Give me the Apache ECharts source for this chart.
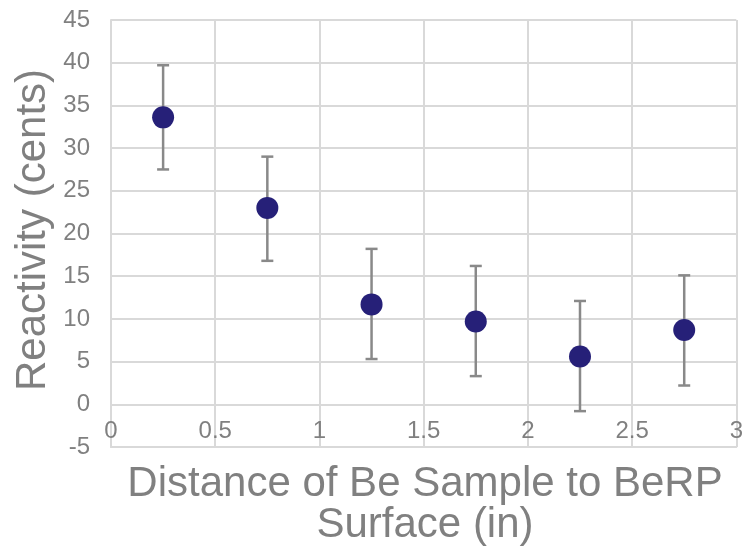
<!DOCTYPE html>
<html>
<head>
<meta charset="utf-8">
<script src="https://cdn.jsdelivr.net/npm/echarts@6/dist/echarts.min.js"></script>
<style>html,body{margin:0;padding:0;background:#fff}#c{width:746px;height:548px}</style>
</head>
<body>
<div id="c"></div>
<script>
var distances = [0.25, 0.75, 1.25, 1.75, 2.25, 2.75];
var reactivity = [33.6, 23.0, 11.7, 9.7, 5.6, 8.7];
var errUpper = [39.7, 29.0, 18.2, 16.2, 12.1, 15.1];
var errLower = [27.5, 16.8, 5.3, 3.3, -0.8, 2.2];
var xTitle = 'Distance of Be Sample to BeRP\nSurface (in)';
var yTitle = 'Reactivity (cents)';

var chart = echarts.init(document.getElementById('c'));
var pts = distances.map(function (d, i) { return [d, reactivity[i]]; });
var errs = distances.map(function (d, i) { return [d, errLower[i], errUpper[i]]; });
var grid = '#d9d9d9';
var txt = '#808080';
var font = '"Liberation Sans", Arial, sans-serif';

chart.setOption({
  animation: false,
  grid: { left: 111, right: 6, top: 20, bottom: 101 },
  xAxis: {
    type: 'value', min: 0, max: 3, interval: 0.5,
    axisLine: { show: true, onZero: false, lineStyle: { color: grid, width: 2 } },
    axisTick: { show: false },
    splitLine: { show: true, lineStyle: { color: grid, width: 2 } },
    axisLabel: { color: txt, fontSize: 24, fontFamily: font, margin: -28 }
  },
  yAxis: {
    type: 'value', min: -5, max: 45, interval: 5,
    axisLine: { show: true, onZero: false, lineStyle: { color: grid, width: 2 } },
    axisTick: { show: false },
    splitLine: { show: true, lineStyle: { color: grid, width: 2 } },
    axisLabel: { color: txt, fontSize: 24, fontFamily: font, margin: 21 }
  },
  graphic: [
    { type: 'text', x: 425, y: 505, silent: true,
      style: { text: xTitle, fill: txt, font: '42px ' + font, textAlign: 'center', textVerticalAlign: 'middle', lineHeight: 41 } },
    { type: 'text', x: 33, y: 230, rotation: Math.PI / 2, silent: true,
      style: { text: yTitle, fill: txt, font: '42px ' + font, textAlign: 'center', textVerticalAlign: 'middle' } }
  ],
  series: [
    {
      type: 'custom',
      data: errs,
      z: 2,
      renderItem: function (params, api) {
        var x = api.value(0);
        var lo = api.coord([x, api.value(1)]);
        var hi = api.coord([x, api.value(2)]);
        var w = 6;
        var st = { stroke: '#898989', lineWidth: 2.5 };
        return {
          type: 'group',
          children: [
            { type: 'line', shape: { x1: lo[0], y1: lo[1], x2: hi[0], y2: hi[1] }, style: st },
            { type: 'line', shape: { x1: lo[0] - w, y1: lo[1], x2: lo[0] + w, y2: lo[1] }, style: st },
            { type: 'line', shape: { x1: hi[0] - w, y1: hi[1], x2: hi[0] + w, y2: hi[1] }, style: st }
          ]
        };
      }
    },
    {
      type: 'scatter',
      data: pts,
      z: 3,
      symbol: 'circle',
      symbolSize: 22,
      itemStyle: { color: '#262078', opacity: 1 }
    }
  ]
});
</script>
</body>
</html>
